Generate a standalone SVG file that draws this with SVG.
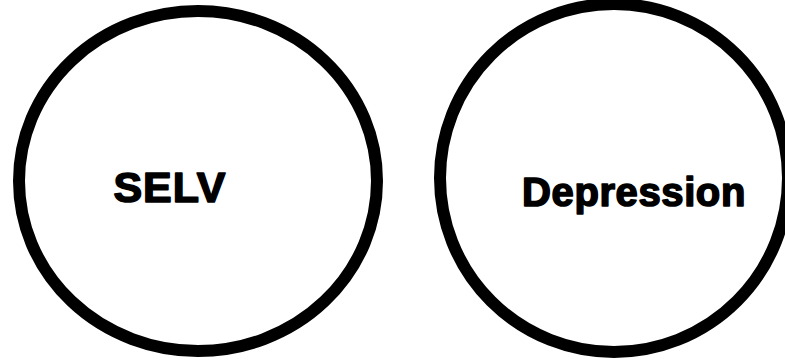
<svg xmlns="http://www.w3.org/2000/svg" width="785" height="360" viewBox="0 0 785 360">
<style>
.node{fill:#ffffff;stroke:#000000;stroke-width:12}
.lbl{font-family:"Liberation Sans",Arial,sans-serif;font-weight:bold;fill:#000000;stroke:#000000;stroke-width:1.6;stroke-linejoin:round;text-anchor:middle}
</style>
<rect width="785" height="360" fill="#ffffff"/>
<g id="connectors"></g>
<g id="node-selv">
<ellipse class="node" cx="198" cy="181" rx="179" ry="170"/>
<text class="lbl" x="170" y="202" font-size="43" letter-spacing="1">SELV</text>
</g>
<g id="node-depression">
<ellipse class="node" cx="614" cy="178" rx="174" ry="174"/>
<text class="lbl" x="634" y="206" font-size="40" letter-spacing="0.6">Depression</text>
</g>
</svg>
